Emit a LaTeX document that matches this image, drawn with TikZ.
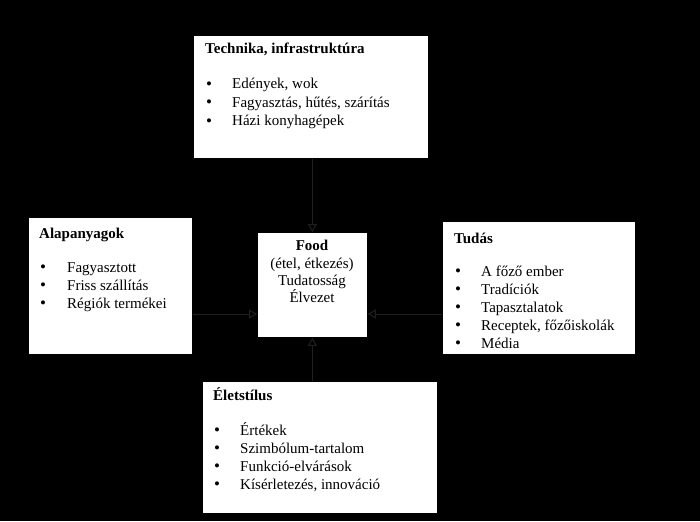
\documentclass[tikz,border=0pt]{standalone}
\usepackage{fontspec}
\setmainfont{Liberation Serif}
\newfontfamily\tnr{Liberation Serif}
\usetikzlibrary{arrows.meta}
\tikzset{
  fs/.style={font=\tnr\fontsize{15pt}{18pt}\selectfont},
  box/.style={draw=black, fill=white, line width=0.8pt, anchor=north west, inner sep=0pt},
  ttl/.style={anchor=base west, inner sep=0pt, font=\tnr\fontsize{15pt}{18pt}\selectfont\bfseries},
  itm/.style={anchor=base west, inner sep=0pt, fs},
  bul/.style={anchor=base, inner sep=0pt, font=\tnr\fontsize{17pt}{17pt}\selectfont, yshift=-0.5pt},
  ctr/.style={anchor=base, inner sep=0pt, fs},
  conn/.style={draw=gray!25!black, line width=1pt, -{Triangle[open, length=8pt, width=9pt]}},
}
\begin{document}
\begin{tikzpicture}[x=1pt,y=-1pt]
\fill[black] (0,0) rectangle (700,521);
\useasboundingbox (0,0) rectangle (700,521);
% boxes
\node[box, minimum width=235pt, minimum height=123pt] (tech) at (193,35) {};
\node[box, minimum width=110pt, minimum height=105pt] (food) at (257,232) {};
\node[box, minimum width=164pt, minimum height=137pt] (alap) at (28,217) {};
\node[box, minimum width=193pt, minimum height=133pt] (tudas) at (442,221) {};
\node[box, minimum width=235pt, minimum height=132pt] (elet) at (202,381) {};
% Technika
\node[ttl] (t0) at (205,54) {Technika, infrastruktúra};
\node[bul] (tb1) at (209,89) {\textbullet};
\node[itm] (t1) at (232,89) {Edények, wok};
\node[bul] (tb2) at (209,107.5) {\textbullet};
\node[itm] (t2) at (232,107.5) {Fagyasztás, hűtés, szárítás};
\node[bul] (tb3) at (209,126) {\textbullet};
\node[itm] (t3) at (232,126) {Házi konyhagépek};
% Alapanyagok
\node[ttl] (a0) at (39,238) {Alapanyagok};
\node[bul] (ab1) at (43,272) {\textbullet};
\node[itm] (a1) at (67,272) {Fagyasztott};
\node[bul] (ab2) at (43,290) {\textbullet};
\node[itm] (a2) at (67,290) {Friss szállítás};
\node[bul] (ab3) at (43,308) {\textbullet};
\node[itm] (a3) at (67,308) {Régiók termékei};
% Tudas
\node[ttl] (u0) at (454,243) {Tudás};
\node[bul] (ub1) at (458,276) {\textbullet};
\node[itm] (u1) at (481,276) {A főző ember};
\node[bul] (ub2) at (458,294) {\textbullet};
\node[itm] (u2) at (481,294) {Tradíciók};
\node[bul] (ub3) at (458,312) {\textbullet};
\node[itm] (u3) at (481,312) {Tapasztalatok};
\node[bul] (ub4) at (458,330) {\textbullet};
\node[itm] (u4) at (481,330) {Receptek, főzőiskolák};
\node[bul] (ub5) at (458,348) {\textbullet};
\node[itm] (u5) at (481,348) {Média};
% Eletstilus
\node[ttl] (e0) at (213,400) {Életstílus};
\node[bul] (eb1) at (217,435) {\textbullet};
\node[itm] (e1) at (240,435) {Értékek};
\node[bul] (eb2) at (217,453) {\textbullet};
\node[itm] (e2) at (240,453) {Szimbólum-tartalom};
\node[bul] (eb3) at (217,471) {\textbullet};
\node[itm] (e3) at (240,471) {Funkció-elvárások};
\node[bul] (eb4) at (217,489) {\textbullet};
\node[itm] (e4) at (240,489) {Kísérletezés, innováció};
% Food
\node[ctr, font=\tnr\fontsize{15pt}{18pt}\selectfont\bfseries] (f0) at (312,250) {Food};
\node[ctr] (f1) at (312,268) {(étel, étkezés)};
\node[ctr] (f2) at (312,285) {Tudatosság};
\node[ctr] (f3) at (312,302) {Élvezet};
% connectors
\coordinate (hy) at (0,314);
\draw[conn] (food.north |- tech.south) -- (food.north);
\draw[conn] (alap.east |- hy) -- (food.west |- hy);
\draw[conn] (tudas.west |- hy) -- (food.east |- hy);
\draw[conn] (food.south |- elet.north) -- (food.south);
\end{tikzpicture}
\end{document}
